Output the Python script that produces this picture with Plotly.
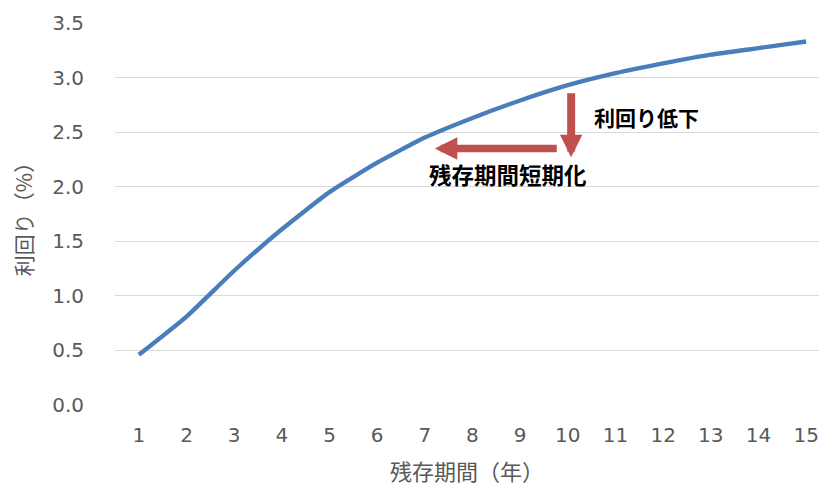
import plotly.graph_objects as go

# data
years = list(range(1, 16))
yields = [0.46, 0.81, 1.23, 1.61, 1.95, 2.22, 2.45, 2.63, 2.79, 2.93, 3.04, 3.13, 3.21, 3.27, 3.33]
x_tick_labels = [str(v) for v in years]
y_tick_vals = [0.0, 0.5, 1.0, 1.5, 2.0, 2.5, 3.0, 3.5]
y_tick_labels = [f"{v:.1f}" for v in y_tick_vals]

# annotation anchors (data coordinates)
drop_arrow_x = 10.07
drop_arrow_from = 2.87
drop_arrow_to = 2.27
short_arrow_y = 2.35
short_arrow_from = 9.8
short_arrow_to = 7.21
label_drop = ("利回り低下", 11.66, 2.64, 21)
label_short = ("残存期間短期化", 8.75, 2.12, 22.5)

FONT = "Noto Sans CJK JP"
NUMFONT = "DejaVu Sans"
GRAY = "#595959"
RED = "#c0504d"

fig = go.Figure()
fig.add_trace(go.Scatter(
    x=years, y=yields, mode="lines",
    line=dict(color="#4a7ebb", width=4.4, shape="spline", smoothing=0.5),
    hoverinfo="skip", showlegend=False,
))

annotations = [
    dict(x=drop_arrow_x, y=drop_arrow_to, ax=drop_arrow_x, ay=drop_arrow_from,
         xref="x", yref="y", axref="x", ayref="y", text="", showarrow=True,
         arrowhead=2, arrowwidth=8, arrowsize=0.56, arrowcolor=RED, standoff=0),
    dict(x=short_arrow_to, y=short_arrow_y, ax=short_arrow_from, ay=short_arrow_y,
         xref="x", yref="y", axref="x", ayref="y", text="", showarrow=True,
         arrowhead=2, arrowwidth=7.5, arrowsize=0.6, arrowcolor=RED, standoff=0),
]
for txt, xx, yy, sz in (label_drop, label_short):
    annotations.append(dict(x=xx, y=yy, xref="x", yref="y", text=f"<b>{txt}</b>",
                            showarrow=False, font=dict(family=FONT, size=sz, color="#000000")))

fig.update_layout(
    width=819, height=488,
    margin=dict(l=115, r=0, t=23, b=83),
    paper_bgcolor="white", plot_bgcolor="white",
    font=dict(family=FONT, size=20, color=GRAY),
    annotations=annotations,
    showlegend=False,
)
fig.update_xaxes(
    range=[0.5, 15.27], tickmode="array", tickvals=years, ticktext=x_tick_labels,
    showgrid=False, zeroline=False, showline=False, ticks="",
    ticklabelstandoff=16,
    tickfont=dict(family=NUMFONT, size=20, color=GRAY),
    title=dict(text="残存期間（年）", font=dict(family=FONT, size=22, color=GRAY), standoff=18),
)
fig.update_yaxes(
    range=[0, 3.5], tickmode="array", tickvals=y_tick_vals, ticktext=y_tick_labels,
    showgrid=True, gridcolor="#d9d9d9", gridwidth=1.4, zeroline=False, showline=False, ticks="",
    ticklabelstandoff=30,
    tickfont=dict(family=NUMFONT, size=20, color=GRAY),
    title=dict(text="利回り（%）", font=dict(family=FONT, size=21, color=GRAY), standoff=13),
)

fig.write_html("out.html")
